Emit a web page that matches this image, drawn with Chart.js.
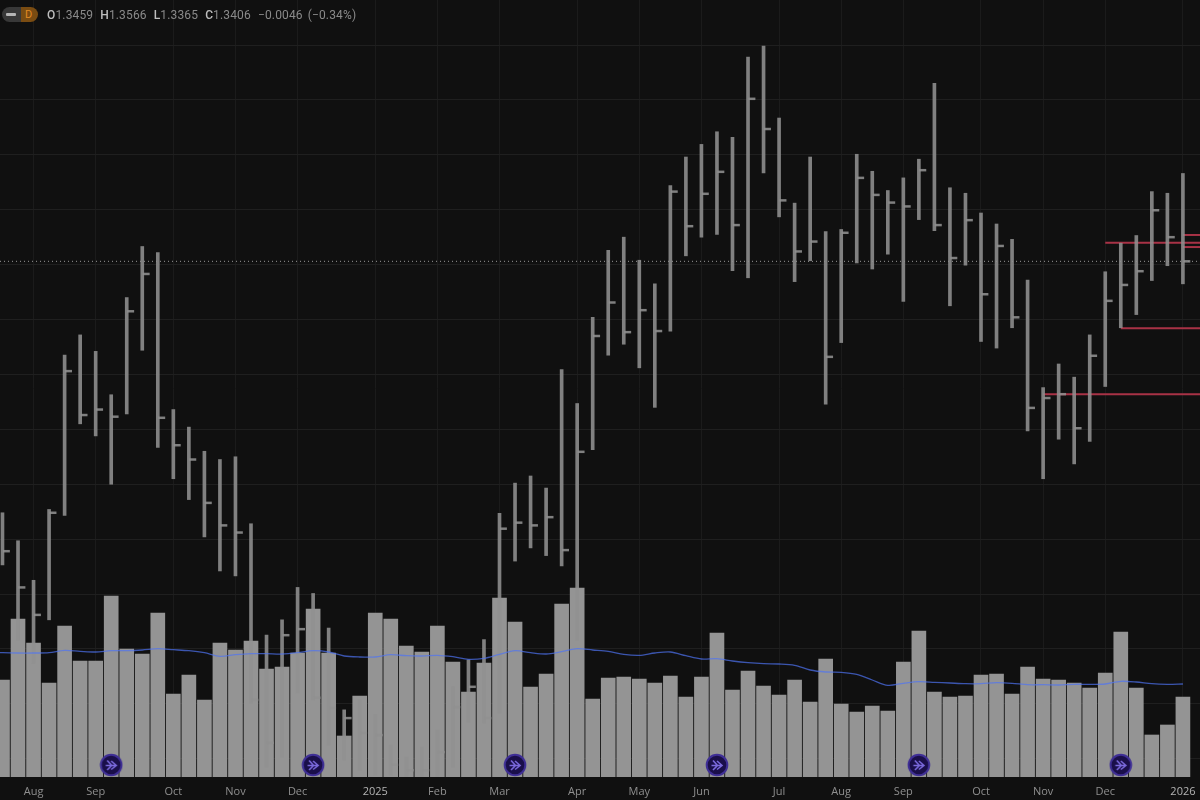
<!DOCTYPE html>
<html>
<head>
<meta charset="utf-8">
<title>Weekly price and volume</title>
<script src="https://cdn.jsdelivr.net/npm/chart.js@4"></script>
<style>
  html, body { margin: 0; padding: 0; background: #101010; }
  #wrap { position: relative; width: 1200px; height: 800px; overflow: hidden; }
  canvas { display: block; }
  #legend {
    position: absolute; left: 2px; top: 7px; height: 15px;
    display: flex; align-items: center;
    font: 12px Roboto, sans-serif; color: #8a8a8a; white-space: nowrap;
  }
  #pill { display: flex; width: 36px; height: 15px; border-radius: 8px; overflow: hidden; margin-right: 9px; }
  #pill .dash { width: 19px; background: #383838; position: relative; }
  #pill .dash::after { content: ""; position: absolute; left: 4px; top: 6px; width: 10px; height: 3px; background: #b5b5b5; border-radius: 1px; }
  #pill .res { flex: 1; background: #7a4c12; color: #e08a24; font-size: 11px; line-height: 15px; text-align: center; padding-right: 2px; }
  #legend b { font-weight: 500; color: #bdbdbd; }
  #legend span.item { margin-right: 7px; letter-spacing: 0.15px; }
  #legend span.item:nth-last-child(2) { margin-right: 5px; }
</style>
</head>
<body>
<div id="wrap">
  <canvas id="chartPrice" width="1200" height="800"></canvas>
  <div id="legend">
    <div id="pill"><div class="dash"></div><div class="res">D</div></div>
    <span class="item"><b>O</b>1.3459</span>
    <span class="item"><b>H</b>1.3566</span>
    <span class="item"><b>L</b>1.3365</span>
    <span class="item"><b>C</b>1.3406</span>
    <span class="item">−0.0046</span>
    <span class="item">(−0.34%)</span>
  </div>
</div>
<script>
// Weekly bars (index = week number)
const highs = [
  1.2948, 1.2897, 1.2825, 1.2954, 1.3235, 1.3272, 1.3242, 1.3163, 1.3340, 1.3433,
  1.3422, 1.3136, 1.3104, 1.3060, 1.3045, 1.3050, 1.2928, 1.2725, 1.2753, 1.2812,
  1.2801, 1.2738, 1.2589, 1.2607, 1.2580, 1.2525, 1.2503, 1.2521, 1.2552, 1.2631,
  1.2680, 1.2717, 1.2947, 1.3002, 1.3015, 1.2993, 1.3209, 1.3147, 1.3304, 1.3426,
  1.3450, 1.3408, 1.3365, 1.3544, 1.3596, 1.3619, 1.3642, 1.3632, 1.3778, 1.3798,
  1.3667, 1.3512, 1.3596, 1.3460, 1.3464, 1.3601, 1.3570, 1.3535, 1.3558, 1.3592,
  1.3730, 1.3540, 1.3530, 1.3494, 1.3474, 1.3446, 1.3372, 1.3176, 1.3219, 1.3195,
  1.3272, 1.3387, 1.3439, 1.3453, 1.3533, 1.3530, 1.3566
];
const lows = [
  1.2853, 1.2716, 1.2674, 1.2753, 1.2943, 1.3110, 1.3088, 1.3000, 1.3128, 1.3244,
  1.3067, 1.3010, 1.2972, 1.2904, 1.2842, 1.2833, 1.2601, 1.2485, 1.2503, 1.2620,
  1.2607, 1.2525, 1.2498, 1.2479, 1.2470, 1.2470, 1.2468, 1.2468, 1.2468, 1.2485,
  1.2567, 1.2565, 1.2583, 1.2860, 1.2884, 1.2870, 1.2851, 1.2716, 1.3063, 1.3235,
  1.3255, 1.3212, 1.3140, 1.3279, 1.3416, 1.3450, 1.3455, 1.3389, 1.3376, 1.3567,
  1.3487, 1.3369, 1.3407, 1.3146, 1.3258, 1.3403, 1.3392, 1.3419, 1.3333, 1.3482,
  1.3462, 1.3325, 1.3399, 1.3260, 1.3248, 1.3285, 1.3097, 1.3010, 1.3082, 1.3037,
  1.3078, 1.3178, 1.3285, 1.3309, 1.3371, 1.3398, 1.3365
];
const closes = [
  1.2878, 1.2812, 1.2762, 1.2948, 1.3206, 1.3126, 1.3136, 1.3123, 1.3315, 1.3383,
  1.3121, 1.3071, 1.3045, 1.2966, 1.2925, 1.2912, 1.2607, 1.2529, 1.2725, 1.2736,
  1.2611, 1.2592, 1.2574, 1.2547, 1.2543, 1.2489, 1.2479, 1.2479, 1.2512, 1.2594,
  1.2631, 1.2574, 1.2919, 1.2930, 1.2925, 1.2940, 1.2880, 1.3059, 1.3270, 1.3331,
  1.3277, 1.3317, 1.3279, 1.3533, 1.3470, 1.3529, 1.3569, 1.3472, 1.3702, 1.3647,
  1.3517, 1.3424, 1.3442, 1.3232, 1.3458, 1.3558, 1.3527, 1.3513, 1.3506, 1.3572,
  1.3472, 1.3412, 1.3481, 1.3346, 1.3434, 1.3304, 1.3139, 1.3157, 1.3164, 1.3102,
  1.3234, 1.3334, 1.3363, 1.3388, 1.3499, 1.3450, 1.3406
];
const volumes = [
  97, 158, 134, 94, 151, 116, 116, 181, 128, 123,
  164, 83, 102, 77, 134, 127, 136, 108, 110, 124,
  168, 124, 41, 81, 164, 158, 131, 125, 151, 115,
  85, 114, 179, 155, 90, 103, 173, 189, 78, 99,
  100, 98, 94, 101, 80, 100, 144, 87, 106, 91,
  82, 97, 75, 118, 73, 65, 71, 66, 115, 146,
  85, 80, 81, 102, 103, 83, 110, 98, 97, 94,
  89, 104, 145, 89, 42, 52, 80
];
const volumeAverage = [
  124.3, 124, 124, 124.3, 126.7, 125.7, 125, 126.3, 126.3, 127,
  128.3, 127.3, 126.3, 124.3, 120.7, 122.3, 123.3, 123.3, 123, 124.3,
  126.3, 125, 121, 120, 120, 122.3, 121.3, 121, 121.7, 120.3,
  117.7, 118.7, 122.7, 126.3, 124.3, 123, 125.3, 128.3, 127, 125.7,
  122.7, 121.7, 124, 125, 121.3, 118, 118.3, 116, 114.3, 113.3,
  113, 111.7, 107, 105, 104.7, 102.7, 97, 91.7, 93.7, 95.3,
  94.7, 94, 93.3, 93.3, 94.3, 93.7, 92.3, 92.3, 92, 92.7,
  92.7, 93, 95.7, 95, 93.3, 92.7, 93
];
// The average comes in from off-screen on the left
const volumeAverageBefore = 124.3;

// Axis ticks
const monthTicks = [2, 6, 11, 15, 19, 24, 28, 32, 37, 41, 45, 50, 54, 58, 63, 67, 71, 76];
const monthLabels = ['Aug', 'Sep', 'Oct', 'Nov', 'Dec', '2025', 'Feb', 'Mar', 'Apr', 'May', 'Jun', 'Jul', 'Aug', 'Sep', 'Oct', 'Nov', 'Dec', '2026'];
const priceTicks = [1.25, 1.26, 1.27, 1.28, 1.29, 1.30, 1.31, 1.32, 1.33, 1.34, 1.35, 1.36, 1.37, 1.38];

// Horizontal levels: week they start on and their price
const levelStarts = [67, 71, 72, 76, 76];
const levelPrices = [1.3164, 1.3440, 1.3284, 1.3454, 1.3432];
const lastClose = 1.3406;

// Event markers sit on these weeks
const eventWeeks = [7, 20, 33, 46, 59, 72];
const eventLevel = 12;

// Visible ranges of the three scales
const weekMin = -0.16;
const weekMax = 77.1;
const priceMin = 1.24667;
const priceMax = 1.3882;
const volumeMax = 777;
const closeTickOffset = 0.25;

const barColor = 'rgba(144, 144, 144, 0.874)';

function eventIcon() {
  const size = 24;
  const c = document.createElement('canvas');
  c.width = size;
  c.height = size;
  const g = c.getContext('2d');
  g.beginPath();
  g.arc(12, 12, 10.3, 0, Math.PI * 2);
  g.fillStyle = '#1a0f4a';
  g.fill();
  g.lineWidth = 2;
  g.strokeStyle = '#3f2f96';
  g.stroke();
  g.strokeStyle = '#7a69dc';
  g.lineWidth = 1.6;
  g.beginPath();
  g.moveTo(6.5, 12.5); g.lineTo(16, 12.5);
  g.moveTo(8, 7.5); g.lineTo(12.5, 12.5); g.lineTo(8, 17);
  g.moveTo(12, 8); g.lineTo(17, 12.5); g.lineTo(12, 16.5);
  g.stroke();
  return c;
}

const weekPoints = values => values.map((v, i) => ({ x: i, y: v }));

const levelDatasets = levelPrices.map((price, i) => ({
  type: 'line',
  data: [{ x: levelStarts[i], y: price }, { x: weekMax, y: price }],
  yAxisID: 'yPrice',
  borderColor: '#a83246',
  borderWidth: 2,
  pointRadius: 0,
  order: 6
}));

new Chart(document.getElementById('chartPrice').getContext('2d'), {
  data: {
    datasets: [
      // Last price
      {
        type: 'line',
        data: [{ x: weekMin, y: lastClose }, { x: weekMax, y: lastClose }],
        yAxisID: 'yPrice',
        borderColor: '#9a9a9a',
        borderWidth: 1,
        borderDash: [1, 3],
        pointRadius: 0,
        order: 7
      },
      ...levelDatasets,
      // Volume
      {
        type: 'bar',
        data: weekPoints(volumes),
        yAxisID: 'yVolume',
        backgroundColor: '#949494',
        barThickness: 14,
        grouped: false,
        order: 5
      },
      // High-low bars
      {
        type: 'bar',
        data: highs.map((h, i) => ({ x: i, y: [lows[i], h] })),
        yAxisID: 'yPrice',
        backgroundColor: barColor,
        barThickness: 3,
        grouped: false,
        order: 4
      },
      // Close ticks
      {
        type: 'line',
        data: closes.map((v, i) => ({ x: i + closeTickOffset, y: v })),
        yAxisID: 'yPrice',
        showLine: false,
        pointStyle: 'line',
        pointRadius: 3.5,
        pointBorderWidth: 2.5,
        pointBorderColor: barColor,
        order: 3
      },
      // Volume average
      {
        type: 'line',
        data: [{ x: -1, y: volumeAverageBefore }, ...weekPoints(volumeAverage)],
        yAxisID: 'yVolume',
        borderColor: 'rgba(79, 115, 243, 0.7)',
        borderWidth: 1.3,
        tension: 0.3,
        pointRadius: 0,
        order: 2
      },
      // Events
      {
        type: 'line',
        data: eventWeeks.map(w => ({ x: w, y: eventLevel })),
        yAxisID: 'yVolume',
        showLine: false,
        pointStyle: eventIcon(),
        order: 1
      }
    ]
  },
  options: {
    responsive: false,
    animation: false,
    events: [],
    layout: { padding: 0, autoPadding: false },
    plugins: { legend: { display: false }, tooltip: { enabled: false } },
    scales: {
      x: {
        type: 'linear',
        min: weekMin,
        max: weekMax,
        offset: false,
        border: { display: false },
        grid: { color: '#1b1b1b', lineWidth: 1, offset: false, drawTicks: false },
        afterBuildTicks: scale => {
          scale.ticks = monthTicks.map(value => ({ value }));
        },
        afterFit: scale => {
          // The 2026 label must not pull the plot area in from the right
          scale.height = 23;
          scale.paddingLeft = 0;
          scale.paddingRight = 0;
        },
        ticks: {
          autoSkip: false,
          maxRotation: 0,
          padding: 8,
          font: { family: 'Open Sans', size: 11 },
          color: ctx => (/^\d/.test(ctx.tick.label) ? '#b4b4b4' : '#8f8f8f'),
          callback: value => monthLabels[monthTicks.indexOf(value)]
        }
      },
      yPrice: {
        type: 'linear',
        position: 'left',
        min: priceMin,
        max: priceMax,
        border: { display: false },
        grid: { color: '#1f1f1f', lineWidth: 1, drawTicks: false },
        afterBuildTicks: scale => {
          scale.ticks = priceTicks.map(value => ({ value }));
        },
        afterFit: scale => {
          scale.width = 0;
        },
        ticks: { display: false }
      },
      yVolume: {
        type: 'linear',
        display: false,
        min: 0,
        max: volumeMax
      }
    }
  }
});
</script>
</body>
</html>
